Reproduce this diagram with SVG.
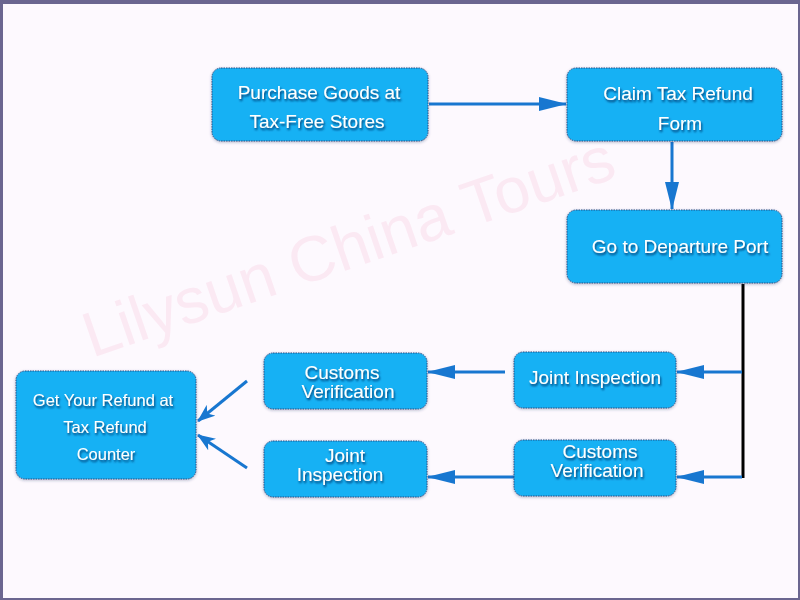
<svg xmlns="http://www.w3.org/2000/svg" width="800" height="600" viewBox="0 0 800 600">
  <defs>
    <style>
      .box { fill: #14b1f4; stroke: #2b4f86; stroke-width: 1; stroke-dasharray: 1.5 1; }
      .lbl { font-family: "Liberation Sans", Arial, sans-serif; font-size: 19px; fill: #ffffff; text-anchor: middle; filter: url(#ts); }
      .lbl2 { font-family: "Liberation Sans", Arial, sans-serif; font-size: 16.5px; fill: #ffffff; text-anchor: middle; filter: url(#ts); }
      .conn { stroke: #1877d0; stroke-width: 3; fill: none; }
      .wm { font-family: "Liberation Sans", Arial, sans-serif; font-size: 64px; fill: #fbe9f3; }
    </style>
    <filter id="ts" x="-20%" y="-40%" width="140%" height="180%">
      <feGaussianBlur in="SourceAlpha" stdDeviation="1.2" result="b"/>
      <feOffset in="b" dx="1" dy="2" result="o"/>
      <feFlood flood-color="#0a2a60" flood-opacity="0.9"/>
      <feComposite in2="o" operator="in" result="s"/>
      <feMerge><feMergeNode in="s"/><feMergeNode in="SourceGraphic"/></feMerge>
    </filter>
    <filter id="bs" x="-10%" y="-10%" width="120%" height="130%">
      <feGaussianBlur in="SourceAlpha" stdDeviation="1.5" result="b"/>
      <feOffset in="b" dx="0" dy="1" result="o"/>
      <feFlood flood-color="#203060" flood-opacity="0.35"/>
      <feComposite in2="o" operator="in" result="s"/>
      <feMerge><feMergeNode in="s"/><feMergeNode in="SourceGraphic"/></feMerge>
    </filter>
    <marker id="ah" viewBox="0 0 28 16" refX="27" refY="8" markerWidth="28" markerHeight="16" markerUnits="userSpaceOnUse" orient="auto">
      <path d="M0,1 L28,8 L0,15 z" fill="#1877d0"/>
    </marker>
    <marker id="ahv" viewBox="0 0 18 14" refX="17" refY="7" markerWidth="18" markerHeight="14" markerUnits="userSpaceOnUse" orient="auto">
      <path d="M0,0 L18,7 L0,14 L5,7 z" fill="#1877d0"/>
    </marker>
  </defs>

  <rect x="0" y="0" width="800" height="600" fill="#6b6690"/>
  <rect x="3" y="4" width="795" height="594" fill="#fdf9fe"/>

  <text class="wm" x="92" y="358" transform="rotate(-19 92 358)">Lilysun China Tours</text>

  <g id="connectors">
    <line class="conn" x1="429" y1="104" x2="566" y2="104" marker-end="url(#ah)"/>
    <line class="conn" x1="672" y1="142" x2="672" y2="209" marker-end="url(#ah)"/>
    <line x1="743" y1="284" x2="743" y2="478" stroke="#000000" stroke-width="3"/>
    <line class="conn" x1="742" y1="372" x2="677" y2="372" marker-end="url(#ah)"/>
    <line class="conn" x1="742" y1="477" x2="677" y2="477" marker-end="url(#ah)"/>
    <line class="conn" x1="505" y1="372" x2="428" y2="372" marker-end="url(#ah)"/>
    <line class="conn" x1="514" y1="477" x2="428" y2="477" marker-end="url(#ah)"/>
    <line class="conn" x1="247" y1="381" x2="198" y2="421" marker-end="url(#ahv)"/>
    <line class="conn" x1="247" y1="468" x2="198" y2="435" marker-end="url(#ahv)"/>
  </g>

  <g id="n1" filter="url(#bs)">
    <rect class="box" x="212" y="68" width="216" height="73" rx="9"/>
    <text class="lbl" x="319" y="99">Purchase Goods at</text>
    <text class="lbl" x="317" y="128">Tax-Free Stores</text>
  </g>
  <g id="n2" filter="url(#bs)">
    <rect class="box" x="567" y="68" width="215" height="73" rx="9"/>
    <text class="lbl" x="678" y="100">Claim Tax Refund</text>
    <text class="lbl" x="680" y="130">Form</text>
  </g>
  <g id="n3" filter="url(#bs)">
    <rect class="box" x="567" y="210" width="215" height="73" rx="9"/>
    <text class="lbl" x="680" y="253">Go to Departure Port</text>
  </g>
  <g id="n4" filter="url(#bs)">
    <rect class="box" x="514" y="352" width="162" height="56" rx="9"/>
    <text class="lbl" x="595" y="384">Joint Inspection</text>
  </g>
  <g id="n5" filter="url(#bs)">
    <rect class="box" x="514" y="440" width="162" height="56" rx="9"/>
    <text class="lbl" x="600" y="458">Customs</text>
    <text class="lbl" x="597" y="477">Verification</text>
  </g>
  <g id="n6" filter="url(#bs)">
    <rect class="box" x="264" y="353" width="163" height="56" rx="9"/>
    <text class="lbl" x="342" y="379">Customs</text>
    <text class="lbl" x="348" y="398">Verification</text>
  </g>
  <g id="n7" filter="url(#bs)">
    <rect class="box" x="264" y="441" width="163" height="56" rx="9"/>
    <text class="lbl" x="345" y="462">Joint</text>
    <text class="lbl" x="340" y="481">Inspection</text>
  </g>
  <g id="n8" filter="url(#bs)">
    <rect class="box" x="16" y="371" width="180" height="108" rx="9"/>
    <text class="lbl2" x="103" y="406">Get Your Refund at</text>
    <text class="lbl2" x="105" y="433">Tax Refund</text>
    <text class="lbl2" x="106" y="460">Counter</text>
  </g>
</svg>
